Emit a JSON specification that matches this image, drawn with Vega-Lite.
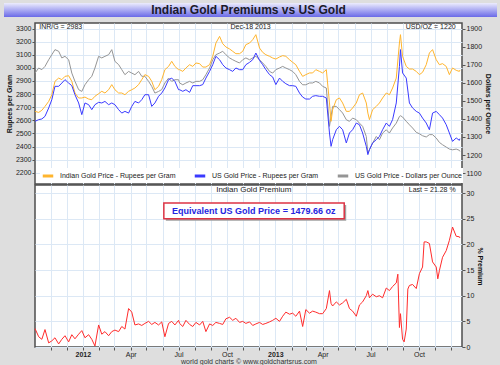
{
  "$schema": "https://vega.github.io/schema/vega-lite/v6.json",
  "background": "#dedede",
  "padding": {"left": 3, "right": 4, "top": 3, "bottom": 0},
  "spacing": 5,
  "config": {
    "font": "Liberation Sans",
    "view": {"stroke": "#4d4d4d", "strokeWidth": 1.5, "fill": "white"},
    "axis": {"labelFontSize": 7, "labelColor": "#222", "titleFontSize": 7, "titleFontWeight": "bold", "titleColor": "#111", "tickColor": "#555", "tickSize": 3, "domain": false, "gridColor": "#dce8f5", "gridWidth": 1, "labelPadding": 1, "titlePadding": 3, "labelOverlap": false}
  },
  "datasets": {
    "prices": [
      {"date": "2011-10-02", "inr_india": 2668, "inr_us": 2592, "usd_us": 1655},
      {"date": "2011-10-09", "inr_india": 2660, "inr_us": 2605, "usd_us": 1683},
      {"date": "2011-10-15", "inr_india": 2676, "inr_us": 2610, "usd_us": 1674},
      {"date": "2011-10-21", "inr_india": 2706, "inr_us": 2630, "usd_us": 1692},
      {"date": "2011-10-28", "inr_india": 2744, "inr_us": 2694, "usd_us": 1729},
      {"date": "2011-11-03", "inr_india": 2795, "inr_us": 2757, "usd_us": 1757},
      {"date": "2011-11-09", "inr_india": 2897, "inr_us": 2859, "usd_us": 1785},
      {"date": "2011-11-16", "inr_india": 2922, "inr_us": 2859, "usd_us": 1776},
      {"date": "2011-11-22", "inr_india": 2910, "inr_us": 2884, "usd_us": 1739},
      {"date": "2011-11-28", "inr_india": 2935, "inr_us": 2910, "usd_us": 1748},
      {"date": "2011-12-05", "inr_india": 2940, "inr_us": 2884, "usd_us": 1729},
      {"date": "2011-12-11", "inr_india": 2897, "inr_us": 2864, "usd_us": 1655},
      {"date": "2011-12-17", "inr_india": 2808, "inr_us": 2795, "usd_us": 1609},
      {"date": "2011-12-24", "inr_india": 2770, "inr_us": 2732, "usd_us": 1563},
      {"date": "2011-12-30", "inr_india": 2770, "inr_us": 2643, "usd_us": 1553},
      {"date": "2012-01-05", "inr_india": 2777, "inr_us": 2732, "usd_us": 1590},
      {"date": "2012-01-12", "inr_india": 2762, "inr_us": 2719, "usd_us": 1618},
      {"date": "2012-01-18", "inr_india": 2757, "inr_us": 2681, "usd_us": 1637},
      {"date": "2012-01-24", "inr_india": 2783, "inr_us": 2719, "usd_us": 1683},
      {"date": "2012-01-31", "inr_india": 2803, "inr_us": 2737, "usd_us": 1748},
      {"date": "2012-02-06", "inr_india": 2821, "inr_us": 2732, "usd_us": 1739},
      {"date": "2012-02-12", "inr_india": 2808, "inr_us": 2744, "usd_us": 1748},
      {"date": "2012-02-19", "inr_india": 2833, "inr_us": 2719, "usd_us": 1757},
      {"date": "2012-02-25", "inr_india": 2872, "inr_us": 2732, "usd_us": 1785},
      {"date": "2012-03-02", "inr_india": 2833, "inr_us": 2719, "usd_us": 1720},
      {"date": "2012-03-09", "inr_india": 2808, "inr_us": 2681, "usd_us": 1702},
      {"date": "2012-03-15", "inr_india": 2808, "inr_us": 2655, "usd_us": 1674},
      {"date": "2012-03-21", "inr_india": 2795, "inr_us": 2668, "usd_us": 1646},
      {"date": "2012-03-28", "inr_india": 2821, "inr_us": 2655, "usd_us": 1664},
      {"date": "2012-04-03", "inr_india": 2833, "inr_us": 2706, "usd_us": 1655},
      {"date": "2012-04-09", "inr_india": 2846, "inr_us": 2744, "usd_us": 1646},
      {"date": "2012-04-16", "inr_india": 2872, "inr_us": 2732, "usd_us": 1664},
      {"date": "2012-04-22", "inr_india": 2910, "inr_us": 2757, "usd_us": 1637},
      {"date": "2012-04-28", "inr_india": 2948, "inr_us": 2795, "usd_us": 1637},
      {"date": "2012-05-05", "inr_india": 2935, "inr_us": 2795, "usd_us": 1609},
      {"date": "2012-05-11", "inr_india": 2897, "inr_us": 2706, "usd_us": 1581},
      {"date": "2012-05-17", "inr_india": 2833, "inr_us": 2732, "usd_us": 1544},
      {"date": "2012-05-24", "inr_india": 2859, "inr_us": 2783, "usd_us": 1553},
      {"date": "2012-05-30", "inr_india": 2910, "inr_us": 2808, "usd_us": 1563},
      {"date": "2012-06-05", "inr_india": 2986, "inr_us": 2846, "usd_us": 1600},
      {"date": "2012-06-12", "inr_india": 3011, "inr_us": 2910, "usd_us": 1627},
      {"date": "2012-06-18", "inr_india": 3050, "inr_us": 2922, "usd_us": 1609},
      {"date": "2012-06-24", "inr_india": 3011, "inr_us": 2897, "usd_us": 1618},
      {"date": "2012-07-01", "inr_india": 2986, "inr_us": 2833, "usd_us": 1618},
      {"date": "2012-07-03", "inr_india": 2986, "inr_us": 2833, "usd_us": 1600},
      {"date": "2012-07-09", "inr_india": 2973, "inr_us": 2821, "usd_us": 1590},
      {"date": "2012-07-15", "inr_india": 2999, "inr_us": 2833, "usd_us": 1600},
      {"date": "2012-07-22", "inr_india": 3024, "inr_us": 2813, "usd_us": 1609},
      {"date": "2012-07-28", "inr_india": 3011, "inr_us": 2864, "usd_us": 1600},
      {"date": "2012-08-03", "inr_india": 3037, "inr_us": 2864, "usd_us": 1609},
      {"date": "2012-08-10", "inr_india": 3032, "inr_us": 2864, "usd_us": 1609},
      {"date": "2012-08-16", "inr_india": 3006, "inr_us": 2872, "usd_us": 1618},
      {"date": "2012-08-22", "inr_india": 3006, "inr_us": 2922, "usd_us": 1646},
      {"date": "2012-08-29", "inr_india": 3024, "inr_us": 2973, "usd_us": 1683},
      {"date": "2012-09-04", "inr_india": 3088, "inr_us": 3024, "usd_us": 1729},
      {"date": "2012-09-10", "inr_india": 3189, "inr_us": 3088, "usd_us": 1757},
      {"date": "2012-09-17", "inr_india": 3240, "inr_us": 3062, "usd_us": 1766},
      {"date": "2012-09-23", "inr_india": 3184, "inr_us": 3024, "usd_us": 1776},
      {"date": "2012-09-29", "inr_india": 3159, "inr_us": 2999, "usd_us": 1757},
      {"date": "2012-10-06", "inr_india": 3144, "inr_us": 2986, "usd_us": 1739},
      {"date": "2012-10-12", "inr_india": 3126, "inr_us": 2973, "usd_us": 1729},
      {"date": "2012-10-18", "inr_india": 3108, "inr_us": 2999, "usd_us": 1720},
      {"date": "2012-10-25", "inr_india": 3108, "inr_us": 2986, "usd_us": 1711},
      {"date": "2012-10-31", "inr_india": 3126, "inr_us": 2986, "usd_us": 1729},
      {"date": "2012-11-06", "inr_india": 3177, "inr_us": 3024, "usd_us": 1739},
      {"date": "2012-11-13", "inr_india": 3189, "inr_us": 3042, "usd_us": 1729},
      {"date": "2012-11-19", "inr_india": 3215, "inr_us": 3062, "usd_us": 1739},
      {"date": "2012-11-25", "inr_india": 3253, "inr_us": 3113, "usd_us": 1748},
      {"date": "2012-12-02", "inr_india": 3151, "inr_us": 3057, "usd_us": 1729},
      {"date": "2012-12-08", "inr_india": 3118, "inr_us": 3024, "usd_us": 1711},
      {"date": "2012-12-14", "inr_india": 3100, "inr_us": 2986, "usd_us": 1692},
      {"date": "2012-12-21", "inr_india": 3088, "inr_us": 2948, "usd_us": 1664},
      {"date": "2012-12-27", "inr_india": 3075, "inr_us": 2930, "usd_us": 1655},
      {"date": "2013-01-02", "inr_india": 3067, "inr_us": 2872, "usd_us": 1674},
      {"date": "2013-01-09", "inr_india": 3083, "inr_us": 2922, "usd_us": 1683},
      {"date": "2013-01-15", "inr_india": 3093, "inr_us": 2897, "usd_us": 1692},
      {"date": "2013-01-21", "inr_india": 3088, "inr_us": 2879, "usd_us": 1683},
      {"date": "2013-01-28", "inr_india": 3062, "inr_us": 2864, "usd_us": 1674},
      {"date": "2013-02-03", "inr_india": 3042, "inr_us": 2864, "usd_us": 1664},
      {"date": "2013-02-09", "inr_india": 3024, "inr_us": 2859, "usd_us": 1646},
      {"date": "2013-02-16", "inr_india": 2973, "inr_us": 2808, "usd_us": 1609},
      {"date": "2013-02-22", "inr_india": 2935, "inr_us": 2777, "usd_us": 1590},
      {"date": "2013-02-28", "inr_india": 2948, "inr_us": 2762, "usd_us": 1590},
      {"date": "2013-03-07", "inr_india": 2961, "inr_us": 2762, "usd_us": 1600},
      {"date": "2013-03-13", "inr_india": 2961, "inr_us": 2783, "usd_us": 1600},
      {"date": "2013-03-19", "inr_india": 2986, "inr_us": 2788, "usd_us": 1609},
      {"date": "2013-03-26", "inr_india": 2973, "inr_us": 2783, "usd_us": 1600},
      {"date": "2013-04-01", "inr_india": 2961, "inr_us": 2783, "usd_us": 1581},
      {"date": "2013-04-08", "inr_india": 2986, "inr_us": 2770, "usd_us": 1572},
      {"date": "2013-04-14", "inr_india": 2732, "inr_us": 2503, "usd_us": 1359},
      {"date": "2013-04-17", "inr_india": 2592, "inr_us": 2401, "usd_us": 1414},
      {"date": "2013-04-20", "inr_india": 2681, "inr_us": 2452, "usd_us": 1470},
      {"date": "2013-04-27", "inr_india": 2757, "inr_us": 2528, "usd_us": 1470},
      {"date": "2013-05-03", "inr_india": 2770, "inr_us": 2554, "usd_us": 1452},
      {"date": "2013-05-09", "inr_india": 2732, "inr_us": 2528, "usd_us": 1433},
      {"date": "2013-05-16", "inr_india": 2668, "inr_us": 2427, "usd_us": 1396},
      {"date": "2013-05-22", "inr_india": 2668, "inr_us": 2503, "usd_us": 1387},
      {"date": "2013-05-28", "inr_india": 2694, "inr_us": 2528, "usd_us": 1405},
      {"date": "2013-06-04", "inr_india": 2732, "inr_us": 2579, "usd_us": 1396},
      {"date": "2013-06-10", "inr_india": 2795, "inr_us": 2566, "usd_us": 1377},
      {"date": "2013-06-16", "inr_india": 2808, "inr_us": 2503, "usd_us": 1359},
      {"date": "2013-06-23", "inr_india": 2732, "inr_us": 2401, "usd_us": 1303},
      {"date": "2013-06-26", "inr_india": 2655, "inr_us": 2338, "usd_us": 1211},
      {"date": "2013-06-29", "inr_india": 2605, "inr_us": 2376, "usd_us": 1229},
      {"date": "2013-07-05", "inr_india": 2681, "inr_us": 2427, "usd_us": 1266},
      {"date": "2013-07-12", "inr_india": 2706, "inr_us": 2452, "usd_us": 1303},
      {"date": "2013-07-18", "inr_india": 2732, "inr_us": 2477, "usd_us": 1285},
      {"date": "2013-07-24", "inr_india": 2770, "inr_us": 2528, "usd_us": 1322},
      {"date": "2013-07-31", "inr_india": 2808, "inr_us": 2579, "usd_us": 1340},
      {"date": "2013-08-06", "inr_india": 2795, "inr_us": 2554, "usd_us": 1322},
      {"date": "2013-08-12", "inr_india": 2846, "inr_us": 2605, "usd_us": 1350},
      {"date": "2013-08-19", "inr_india": 2922, "inr_us": 2732, "usd_us": 1377},
      {"date": "2013-08-25", "inr_india": 3189, "inr_us": 3011, "usd_us": 1414},
      {"date": "2013-08-27", "inr_india": 3253, "inr_us": 3139, "usd_us": 1418},
      {"date": "2013-08-31", "inr_india": 3088, "inr_us": 2961, "usd_us": 1411},
      {"date": "2013-09-07", "inr_india": 3011, "inr_us": 2922, "usd_us": 1387},
      {"date": "2013-09-13", "inr_india": 2991, "inr_us": 2732, "usd_us": 1368},
      {"date": "2013-09-19", "inr_india": 2991, "inr_us": 2694, "usd_us": 1350},
      {"date": "2013-09-26", "inr_india": 2973, "inr_us": 2668, "usd_us": 1326},
      {"date": "2013-10-02", "inr_india": 2948, "inr_us": 2655, "usd_us": 1318},
      {"date": "2013-10-08", "inr_india": 2966, "inr_us": 2617, "usd_us": 1307},
      {"date": "2013-10-15", "inr_india": 3024, "inr_us": 2579, "usd_us": 1300},
      {"date": "2013-10-21", "inr_india": 3113, "inr_us": 2528, "usd_us": 1313},
      {"date": "2013-10-27", "inr_india": 3139, "inr_us": 2655, "usd_us": 1313},
      {"date": "2013-11-03", "inr_india": 3062, "inr_us": 2668, "usd_us": 1294},
      {"date": "2013-11-09", "inr_india": 3024, "inr_us": 2643, "usd_us": 1270},
      {"date": "2013-11-15", "inr_india": 3032, "inr_us": 2617, "usd_us": 1257},
      {"date": "2013-11-22", "inr_india": 3011, "inr_us": 2566, "usd_us": 1244},
      {"date": "2013-11-28", "inr_india": 2948, "inr_us": 2503, "usd_us": 1233},
      {"date": "2013-12-04", "inr_india": 2999, "inr_us": 2439, "usd_us": 1229},
      {"date": "2013-12-11", "inr_india": 2981, "inr_us": 2465, "usd_us": 1233},
      {"date": "2013-12-17", "inr_india": 2973, "inr_us": 2447, "usd_us": 1226},
      {"date": "2013-12-18", "inr_india": 2983, "inr_us": 2460, "usd_us": 1220}
    ],
    "premium": [
      {"date": "2011-10-02", "premium": 3.6},
      {"date": "2011-10-09", "premium": 2.0},
      {"date": "2011-10-15", "premium": 1.5},
      {"date": "2011-10-21", "premium": 3.4},
      {"date": "2011-10-28", "premium": 0.8},
      {"date": "2011-11-03", "premium": 1.2},
      {"date": "2011-11-09", "premium": 1.8},
      {"date": "2011-11-16", "premium": 0.6},
      {"date": "2011-11-22", "premium": 1.5},
      {"date": "2011-11-28", "premium": 2.2},
      {"date": "2011-12-05", "premium": 1.0},
      {"date": "2011-12-11", "premium": 2.4},
      {"date": "2011-12-17", "premium": 1.6},
      {"date": "2011-12-24", "premium": 2.5},
      {"date": "2011-12-30", "premium": 3.2},
      {"date": "2012-01-05", "premium": 1.8},
      {"date": "2012-01-12", "premium": 2.4},
      {"date": "2012-01-18", "premium": 1.5},
      {"date": "2012-01-24", "premium": 0.2},
      {"date": "2012-01-31", "premium": 4.3},
      {"date": "2012-02-06", "premium": 2.5},
      {"date": "2012-02-12", "premium": 3.0},
      {"date": "2012-02-19", "premium": 2.2},
      {"date": "2012-02-25", "premium": 3.0},
      {"date": "2012-03-02", "premium": 3.3},
      {"date": "2012-03-09", "premium": 3.0},
      {"date": "2012-03-15", "premium": 4.0},
      {"date": "2012-03-21", "premium": 3.5},
      {"date": "2012-03-28", "premium": 7.5},
      {"date": "2012-04-03", "premium": 6.8},
      {"date": "2012-04-09", "premium": 4.3},
      {"date": "2012-04-16", "premium": 4.5},
      {"date": "2012-04-22", "premium": 4.2},
      {"date": "2012-04-28", "premium": 4.6},
      {"date": "2012-05-05", "premium": 5.0},
      {"date": "2012-05-11", "premium": 4.4},
      {"date": "2012-05-17", "premium": 4.8},
      {"date": "2012-05-24", "premium": 4.3},
      {"date": "2012-05-30", "premium": 4.9},
      {"date": "2012-06-05", "premium": 2.0},
      {"date": "2012-06-12", "premium": 4.6},
      {"date": "2012-06-18", "premium": 5.0},
      {"date": "2012-06-24", "premium": 4.3},
      {"date": "2012-07-01", "premium": 5.2},
      {"date": "2012-07-03", "premium": 4.6},
      {"date": "2012-07-09", "premium": 4.0},
      {"date": "2012-07-15", "premium": 5.2},
      {"date": "2012-07-22", "premium": 4.4},
      {"date": "2012-07-28", "premium": 4.0},
      {"date": "2012-08-03", "premium": 4.8},
      {"date": "2012-08-10", "premium": 4.3},
      {"date": "2012-08-16", "premium": 5.0},
      {"date": "2012-08-22", "premium": 3.0},
      {"date": "2012-08-29", "premium": 4.5},
      {"date": "2012-09-04", "premium": 4.2},
      {"date": "2012-09-10", "premium": 4.8},
      {"date": "2012-09-17", "premium": 4.6},
      {"date": "2012-09-23", "premium": 4.4},
      {"date": "2012-09-29", "premium": 5.5},
      {"date": "2012-10-06", "premium": 5.8},
      {"date": "2012-10-12", "premium": 5.2},
      {"date": "2012-10-18", "premium": 5.6},
      {"date": "2012-10-25", "premium": 4.8},
      {"date": "2012-10-31", "premium": 5.0},
      {"date": "2012-11-06", "premium": 4.6},
      {"date": "2012-11-13", "premium": 4.9},
      {"date": "2012-11-19", "premium": 4.2},
      {"date": "2012-11-25", "premium": 4.5},
      {"date": "2012-12-02", "premium": 4.8},
      {"date": "2012-12-08", "premium": 4.4},
      {"date": "2012-12-14", "premium": 4.6},
      {"date": "2012-12-21", "premium": 4.9},
      {"date": "2012-12-27", "premium": 5.2},
      {"date": "2013-01-02", "premium": 5.6},
      {"date": "2013-01-09", "premium": 5.0},
      {"date": "2013-01-15", "premium": 6.0},
      {"date": "2013-01-21", "premium": 6.8},
      {"date": "2013-01-28", "premium": 6.4},
      {"date": "2013-02-03", "premium": 6.6},
      {"date": "2013-02-09", "premium": 6.0},
      {"date": "2013-02-16", "premium": 7.0},
      {"date": "2013-02-22", "premium": 4.0},
      {"date": "2013-02-28", "premium": 7.3},
      {"date": "2013-03-07", "premium": 6.6},
      {"date": "2013-03-13", "premium": 7.0},
      {"date": "2013-03-19", "premium": 6.8},
      {"date": "2013-03-26", "premium": 6.5},
      {"date": "2013-04-01", "premium": 6.5},
      {"date": "2013-04-08", "premium": 7.5},
      {"date": "2013-04-14", "premium": 11.0},
      {"date": "2013-04-17", "premium": 8.5},
      {"date": "2013-04-20", "premium": 8.0},
      {"date": "2013-04-27", "premium": 8.8},
      {"date": "2013-05-03", "premium": 8.2},
      {"date": "2013-05-09", "premium": 8.6},
      {"date": "2013-05-16", "premium": 9.3},
      {"date": "2013-05-22", "premium": 7.5},
      {"date": "2013-05-28", "premium": 7.0},
      {"date": "2013-06-04", "premium": 6.0},
      {"date": "2013-06-10", "premium": 8.2},
      {"date": "2013-06-16", "premium": 8.8},
      {"date": "2013-06-23", "premium": 10.0},
      {"date": "2013-06-26", "premium": 11.0},
      {"date": "2013-06-29", "premium": 9.6},
      {"date": "2013-07-05", "premium": 10.3},
      {"date": "2013-07-12", "premium": 9.8},
      {"date": "2013-07-18", "premium": 10.0},
      {"date": "2013-07-24", "premium": 9.6},
      {"date": "2013-07-31", "premium": 11.5},
      {"date": "2013-08-06", "premium": 11.0},
      {"date": "2013-08-12", "premium": 11.8},
      {"date": "2013-08-19", "premium": 12.5},
      {"date": "2013-08-22", "premium": 14.2},
      {"date": "2013-08-25", "premium": 3.8},
      {"date": "2013-08-27", "premium": 6.5},
      {"date": "2013-08-31", "premium": 1.5},
      {"date": "2013-09-03", "premium": 1.0},
      {"date": "2013-09-07", "premium": 3.5},
      {"date": "2013-09-10", "premium": 11.3},
      {"date": "2013-09-13", "premium": 12.0},
      {"date": "2013-09-19", "premium": 12.2},
      {"date": "2013-09-26", "premium": 11.4},
      {"date": "2013-10-02", "premium": 14.3},
      {"date": "2013-10-08", "premium": 15.6},
      {"date": "2013-10-11", "premium": 20.5},
      {"date": "2013-10-15", "premium": 20.5},
      {"date": "2013-10-21", "premium": 20.2},
      {"date": "2013-10-27", "premium": 16.6},
      {"date": "2013-11-03", "premium": 15.6},
      {"date": "2013-11-06", "premium": 13.3},
      {"date": "2013-11-09", "premium": 14.9},
      {"date": "2013-11-15", "premium": 17.5},
      {"date": "2013-11-22", "premium": 18.8},
      {"date": "2013-11-28", "premium": 20.8},
      {"date": "2013-12-04", "premium": 23.4},
      {"date": "2013-12-11", "premium": 21.6},
      {"date": "2013-12-17", "premium": 21.5},
      {"date": "2013-12-18", "premium": 21.28}
    ]
  },
  "vconcat": [
    {
      "width": 427,
      "height": 14,
      "view": {"stroke": null},
      "data": {"values": [{"label": "Indian Gold Premiums vs US Gold"}]},
      "layer": [
        {
          "mark": {"type": "rect", "color": {"gradient": "linear", "x1": 0, "y1": 0, "x2": 0, "y2": 1, "stops": [{"offset": 0, "color": "#ececfd"}, {"offset": 1, "color": "#6a6ae8"}]}},
          "encoding": {
            "x": {"datum": -0.0726, "type": "quantitative", "scale": {"domain": [0, 1], "nice": false, "zero": false}, "axis": {"labels": false, "ticks": false, "domain": false, "grid": false, "title": null, "minExtent": 0, "maxExtent": 0}},
            "x2": {"datum": 1.082}
          }
        },
        {
          "mark": {"type": "text", "fontSize": 12, "fontWeight": "bold", "color": "#1a1a2a"},
          "encoding": {"text": {"field": "label"}}
        }
      ]
    },
    {
      "spacing": -2,
      "resolve": {"scale": {"color": "independent"}, "legend": {"color": "independent"}},
      "vconcat": [
        {
          "width": 427,
          "height": 161,
          "data": {"name": "prices"},
          "resolve": {"scale": {"y": "independent"}},
          "layer": [
            {
              "transform": [{"fold": ["usd_us"], "as": ["series", "value"]}],
              "mark": {"type": "line", "strokeWidth": 1},
              "encoding": {
                "x": {"field": "date", "type": "temporal", "scale": {"domain": [{"year": 2011, "month": 10, "date": 2}, {"year": 2013, "month": 12, "date": 22}]}, "axis": {"title": null, "labels": false, "ticks": false, "grid": true, "minExtent": 0, "maxExtent": 0, "tickCount": {"interval": "month", "step": 1}}},
                "y": {"field": "value", "type": "quantitative", "scale": {"domain": [1039, 1933], "nice": false, "zero": false}, "axis": {"orient": "right", "title": "Dollars per Ounce", "values": [1100, 1200, 1300, 1400, 1500, 1600, 1700, 1800, 1900], "format": "d", "grid": false, "labelOverlap": false}},
                "color": {
                  "field": "series", "type": "nominal",
                  "scale": {"domain": ["inr_india", "inr_us", "usd_us"], "range": ["#ffb52e", "#3a3aff", "#959595"]},
                  "legend": {"orient": "none", "legendX": 5, "legendY": 145, "direction": "horizontal", "columns": 3, "title": null, "symbolType": "stroke", "symbolStrokeWidth": 3, "symbolSize": 110, "labelFontSize": 7, "labelColor": "#222", "labelOffset": 5, "columnPadding": 12, "fillColor": "white", "padding": 1,
                    "labelExpr": "datum.label == 'inr_india' ? 'Indian Gold Price - Rupees per Gram' : datum.label == 'inr_us' ? 'US Gold Price - Rupees per Gram' : 'US Gold Price - Dollars per Ounce'"}
                }
              }
            },
            {
              "layer": [
                {
                  "transform": [{"fold": ["inr_india", "inr_us"], "as": ["series", "value"]}],
                  "mark": {"type": "line", "strokeWidth": 1},
                  "encoding": {
                    "x": {"field": "date", "type": "temporal"},
                    "y": {"field": "value", "type": "quantitative", "scale": {"domain": [2114, 3342], "nice": false, "zero": false}, "axis": {"orient": "left", "title": "Rupees per Gram", "values": [2200, 2300, 2400, 2500, 2600, 2700, 2800, 2900, 3000, 3100, 3200, 3300], "format": "d", "grid": true, "labelOverlap": false}},
                    "color": {"field": "series", "type": "nominal"}
                  }
                },
                {
                  "data": {"values": [{"label": "INR/G = 2983"}]},
                  "mark": {"type": "text", "align": "left", "fontSize": 7, "color": "#222"},
                  "encoding": {"text": {"field": "label"}, "x": {"datum": {"year": 2011, "month": 10, "date": 10}, "type": "temporal"}, "y": {"datum": 3311, "type": "quantitative", "axis": {"orient": "left", "title": "Rupees per Gram", "values": [2200, 2300, 2400, 2500, 2600, 2700, 2800, 2900, 3000, 3100, 3200, 3300], "format": "d", "grid": true, "labelOverlap": false}}}
                },
                {
                  "data": {"values": [{"label": "Dec-18  2013"}]},
                  "mark": {"type": "text", "align": "center", "fontSize": 7, "color": "#222"},
                  "encoding": {"text": {"field": "label"}, "x": {"datum": {"year": 2012, "month": 11, "date": 15}, "type": "temporal"}, "y": {"datum": 3311, "type": "quantitative", "axis": {"orient": "left", "title": "Rupees per Gram", "values": [2200, 2300, 2400, 2500, 2600, 2700, 2800, 2900, 3000, 3100, 3200, 3300], "format": "d", "grid": true, "labelOverlap": false}}}
                },
                {
                  "data": {"values": [{"label": "USD/OZ = 1220"}]},
                  "mark": {"type": "text", "align": "right", "fontSize": 7, "color": "#222"},
                  "encoding": {"text": {"field": "label"}, "x": {"datum": {"year": 2013, "month": 12, "date": 10}, "type": "temporal"}, "y": {"datum": 3311, "type": "quantitative", "axis": {"orient": "left", "title": "Rupees per Gram", "values": [2200, 2300, 2400, 2500, 2600, 2700, 2800, 2900, 3000, 3100, 3200, 3300], "format": "d", "grid": true, "labelOverlap": false}}}
                }
              ]
            }
          ]
        },
        {
          "width": 427,
          "height": 162,
          "layer": [
            {
              "data": {"name": "premium"},
              "mark": {"type": "line", "color": "#ff2b2b", "strokeWidth": 1},
              "encoding": {
                "x": {"field": "date", "type": "temporal", "scale": {"domain": [{"year": 2011, "month": 10, "date": 2}, {"year": 2013, "month": 12, "date": 22}]},
                  "axis": {"title": "world gold charts © www.goldchartsrus.com", "titleFontWeight": "normal", "titleFontSize": 7, "titleColor": "#333", "titlePadding": 0, "labelPadding": 0, "grid": true, "tickCount": {"interval": "month", "step": 1}, "labelFlush": false, "labelOverlap": false,
                    "labelExpr": "month(datum.value) == 0 ? timeFormat(datum.value, '%Y') : (month(datum.value) % 3 == 0 ? timeFormat(datum.value, '%b') : '')",
                    "labelFontWeight": {"condition": {"test": "month(datum.value) == 0", "value": "bold"}, "value": "normal"}}},
                "y": {"field": "premium", "type": "quantitative", "scale": {"domain": [0, 31.6], "nice": false}, "axis": {"orient": "right", "title": "% Premium", "values": [0, 5, 10, 15, 20, 25, 30], "format": "d", "grid": true, "labelOverlap": false}}
              }
            },
            {
              "data": {"values": [{"label": "Equivalent US Gold Price = 1479.66 oz"}]},
              "mark": {"type": "rect", "fill": "#a0a0a0", "xOffset": 2, "x2Offset": 2, "yOffset": 2, "y2Offset": 2},
              "encoding": {"x": {"datum": {"year": 2012, "month": 6, "date": 3}, "type": "temporal"}, "x2": {"datum": {"year": 2013, "month": 5, "date": 12}}, "y": {"datum": 28.1, "type": "quantitative", "axis": {"orient": "right", "title": "% Premium", "values": [0, 5, 10, 15, 20, 25, 30], "format": "d", "grid": true, "labelOverlap": false}}, "y2": {"datum": 25.0}}
            },
            {
              "data": {"values": [{"label": "Equivalent US Gold Price = 1479.66 oz"}]},
              "mark": {"type": "rect", "fill": "white", "stroke": "#dd3344", "strokeWidth": 1.5},
              "encoding": {"x": {"datum": {"year": 2012, "month": 6, "date": 3}, "type": "temporal"}, "x2": {"datum": {"year": 2013, "month": 5, "date": 12}}, "y": {"datum": 28.1, "type": "quantitative", "axis": {"orient": "right", "title": "% Premium", "values": [0, 5, 10, 15, 20, 25, 30], "format": "d", "grid": true, "labelOverlap": false}}, "y2": {"datum": 25.0}}
            },
            {
              "data": {"values": [{"label": "Equivalent US Gold Price = 1479.66 oz"}]},
              "mark": {"type": "text", "align": "center", "fontSize": 9, "fontWeight": "bold", "color": "#2424e0"},
              "encoding": {"text": {"field": "label"}, "x": {"datum": {"year": 2012, "month": 11, "date": 21}, "type": "temporal"}, "y": {"datum": 26.55, "type": "quantitative", "axis": {"orient": "right", "title": "% Premium", "values": [0, 5, 10, 15, 20, 25, 30], "format": "d", "grid": true, "labelOverlap": false}}}
            },
            {
              "data": {"values": [{"label": "Indian Gold Premium"}]},
              "mark": {"type": "text", "align": "center", "fontSize": 8, "color": "#222"},
              "encoding": {"text": {"field": "label"}, "x": {"datum": {"year": 2012, "month": 11, "date": 21}, "type": "temporal"}, "y": {"datum": 30.66, "type": "quantitative", "axis": {"orient": "right", "title": "% Premium", "values": [0, 5, 10, 15, 20, 25, 30], "format": "d", "grid": true, "labelOverlap": false}}}
            },
            {
              "data": {"values": [{"label": "Last = 21.28 %"}]},
              "mark": {"type": "text", "align": "right", "fontSize": 7, "color": "#222"},
              "encoding": {"text": {"field": "label"}, "x": {"datum": {"year": 2013, "month": 12, "date": 10}, "type": "temporal"}, "y": {"datum": 30.6, "type": "quantitative", "axis": {"orient": "right", "title": "% Premium", "values": [0, 5, 10, 15, 20, 25, 30], "format": "d", "grid": true, "labelOverlap": false}}}
            }
          ]
        }
      ]
    }
  ]
}
